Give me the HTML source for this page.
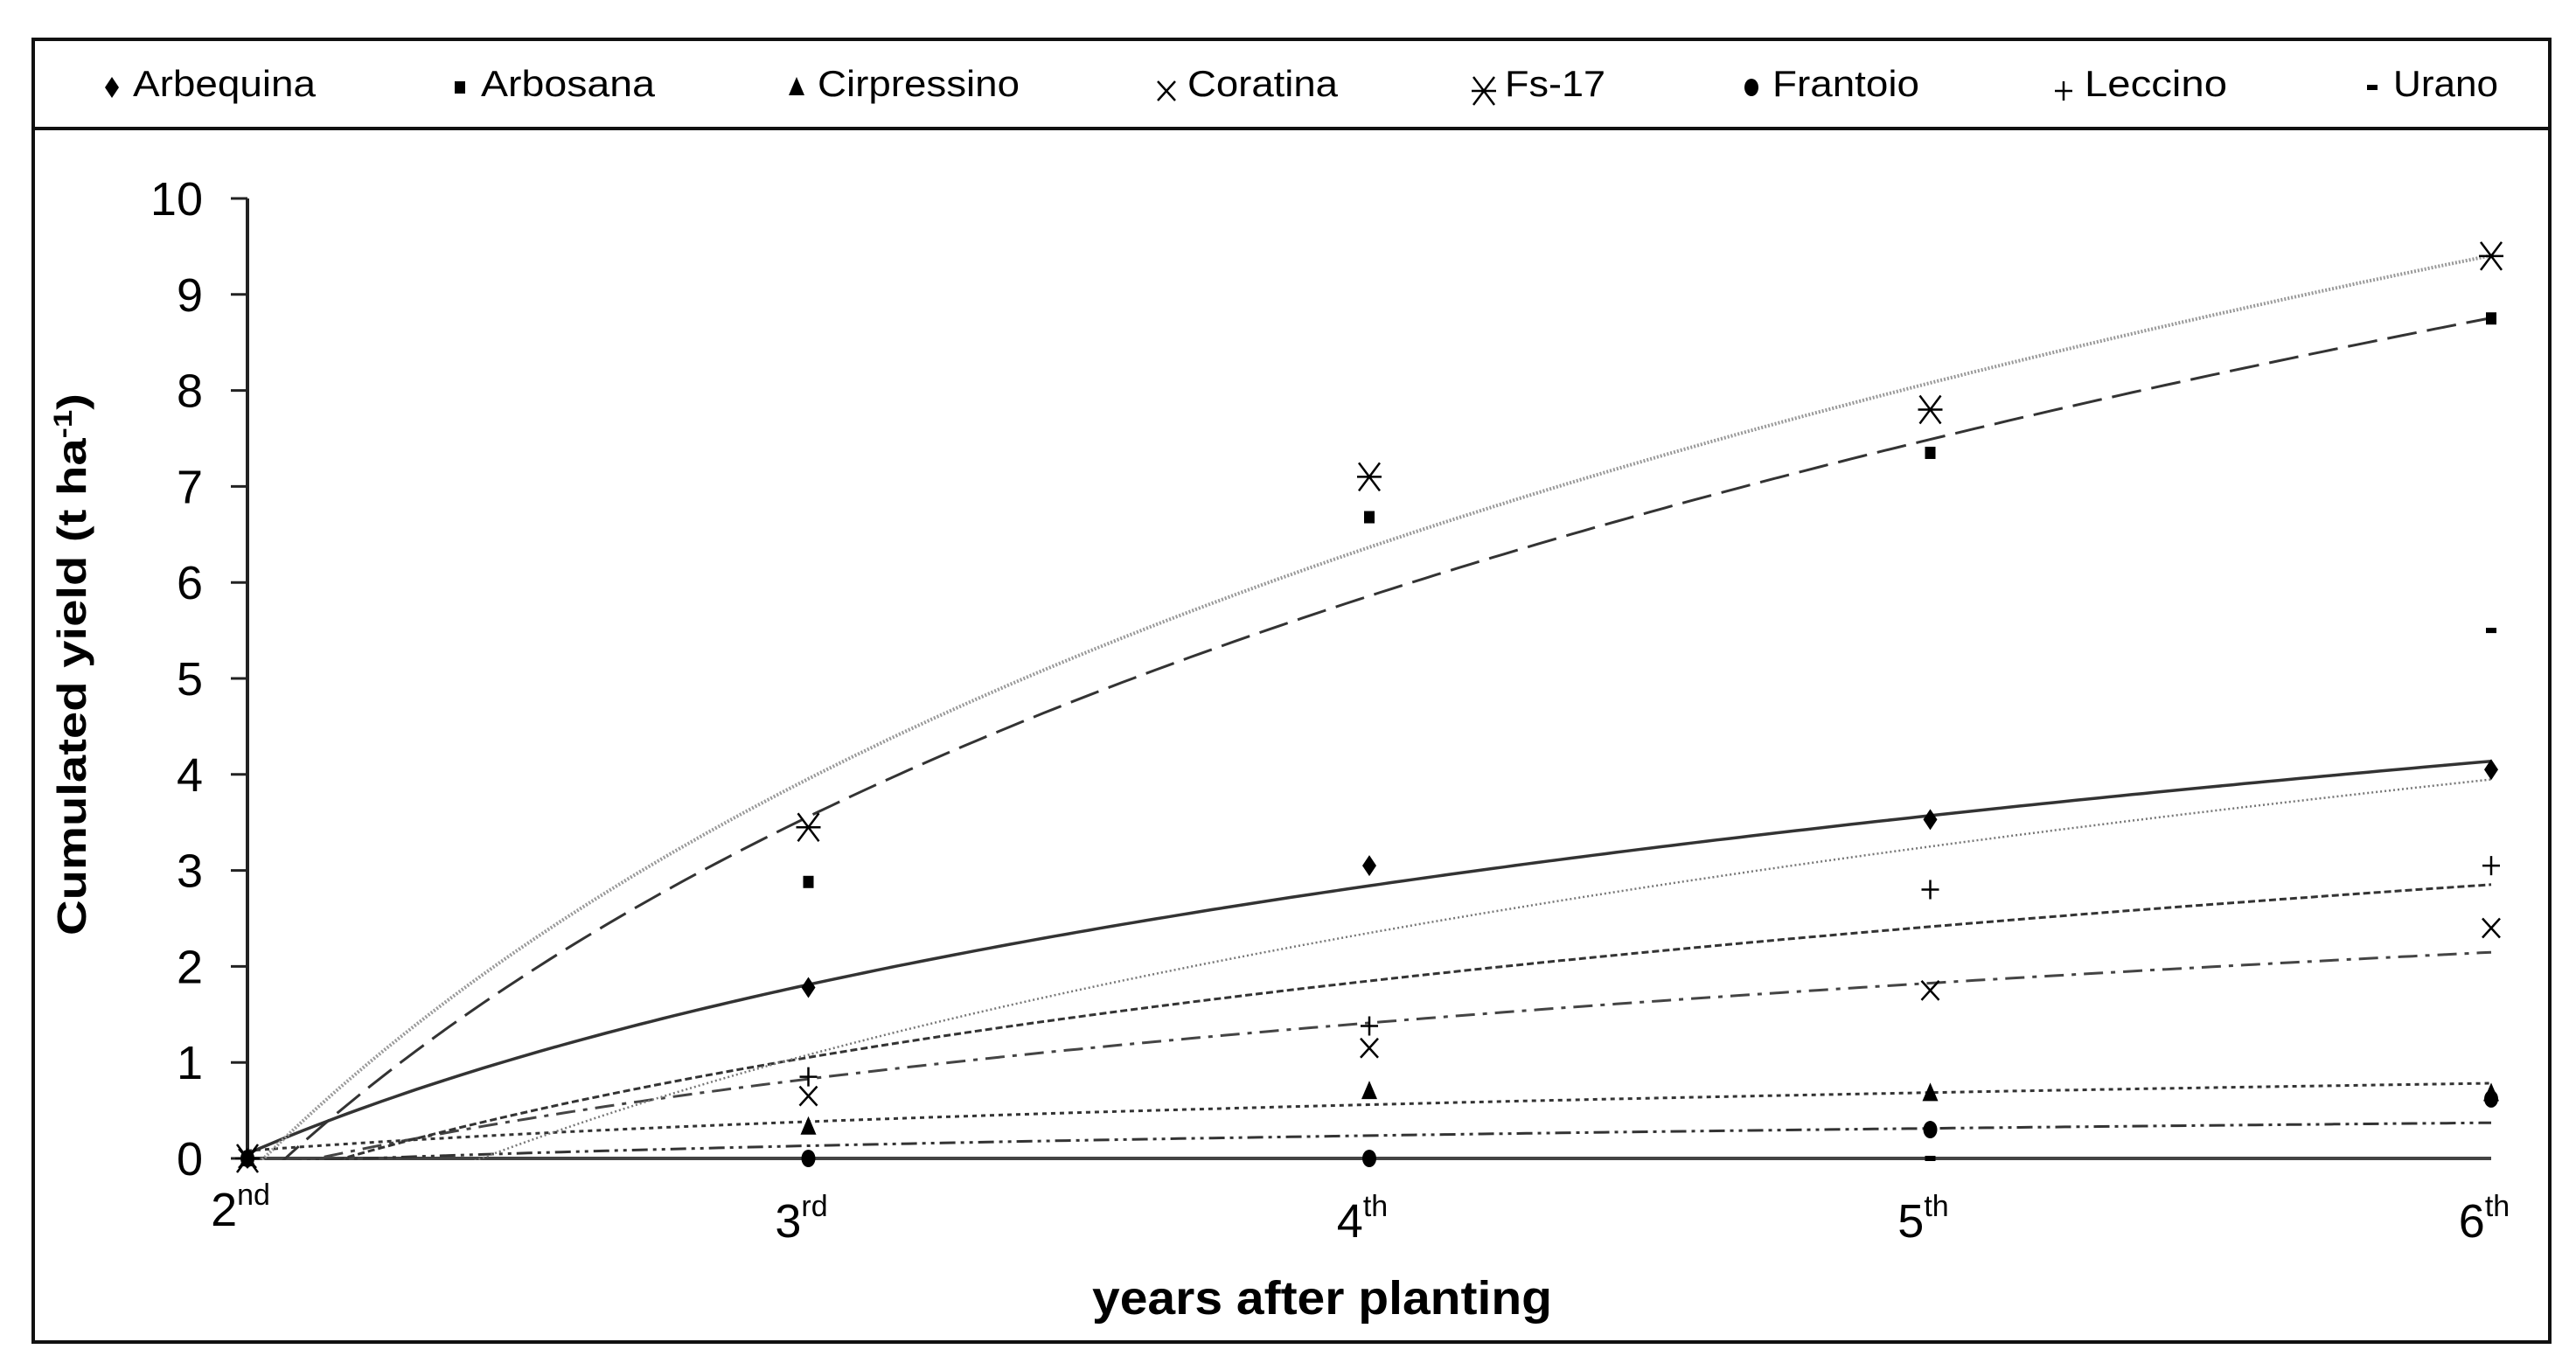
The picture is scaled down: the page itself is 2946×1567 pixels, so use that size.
<!DOCTYPE html>
<html><head><meta charset="utf-8"><style>
html,body{margin:0;padding:0;background:#fff}
svg{display:block;font-family:"Liberation Sans",sans-serif}
</style></head><body>
<svg id="chart" width="2946" height="1567" viewBox="0 0 2946 1567">
<rect x="38" y="45" width="2878" height="1490" fill="#fff" stroke="#111" stroke-width="4"/>
<line x1="38" y1="147" x2="2916" y2="147" stroke="#111" stroke-width="4"/>
<g id="legend"></g>
<g id="axes"></g>
<defs><clipPath id="plotclip"><rect x="283" y="150" width="2600" height="1177"/></clipPath></defs>
<g id="trends" clip-path="url(#plotclip)"></g>
<g id="points"></g>
<text x="98" y="760" transform="rotate(-90 98 760)" text-anchor="middle" font-weight="bold" font-size="46" textLength="620" lengthAdjust="spacingAndGlyphs">Cumulated yield (t ha<tspan baseline-shift="super" font-size="30">-1</tspan>)</text>
<text x="1512" y="1503" text-anchor="middle" font-weight="bold" font-size="54" textLength="526" lengthAdjust="spacingAndGlyphs">years after planting</text>
</svg>
<script>
const categories = ["2","3","4","5","6"];
const catSup = ["nd","rd","th","th","th"];
const yTicks = [0,1,2,3,4,5,6,7,8,9,10];
const seriesNames = ["Arbequina","Arbosana","Cirpressino","Coratina","Fs-17","Frantoio","Leccino","Urano"];
const arbequina = [0,1.78,3.05,3.53,4.05];
const arbosana = [0,2.88,6.68,7.35,8.75];
const cirpressino = [0,0.33,0.7,0.68,0.68];
const coratina = [0,0.65,1.15,1.75,2.4];
const fs17 = [0,3.45,7.1,7.8,9.4];
const frantoio = [0,0,0,0.3,0.62];
const leccino = [0,0.85,1.38,2.8,3.05];
const urano = [0,0,0,0,5.5];
// logarithmic trend coefficients y = a*ln(i+1) + b
const trendA = [2.54,5.67,0.437,1.44,5.95,0.262,1.965,3.13];
const trendB = [0.05,-0.37,0.08,-0.17,-0.17,-0.05,-0.31,-1.09];

const allSeries=[arbequina,arbosana,cirpressino,coratina,fs17,frantoio,leccino,urano];
const NS="http://www.w3.org/2000/svg";
const X0=283, XSTEP=641.5, Y0=1325, YUNIT=109.8;
const xScale=i=>X0+i*XSTEP;
const yScale=v=>Y0-v*YUNIT;
function mk(tag,attrs,parent){const e=document.createElementNS(NS,tag);for(const k in attrs)e.setAttribute(k,attrs[k]);parent.appendChild(e);return e;}
const styles=[
 {stroke:"#333",w:3.5,dash:""},
 {stroke:"#333",w:3,dash:"34 12"},
 {stroke:"#333",w:3,dash:"5 5"},
 {stroke:"#444",w:3,dash:"22 9 5 9"},
 {stroke:"#999",w:4,dash:"2 2"},
 {stroke:"#333",w:3,dash:"18 6 4 6 4 6"},
 {stroke:"#333",w:3,dash:"8 4"},
 {stroke:"#777",w:2.5,dash:"2 3"}
];
function marker(type,cx,cy,g){
  const s="#000";
  let e;
  if(type===0) e=mk("polygon",{points:`${cx},${cy-12} ${cx+8},${cy} ${cx},${cy+12} ${cx-8},${cy}`,fill:s},g);
  else if(type===1) e=mk("rect",{x:cx-6,y:cy-7,width:12,height:14,fill:s},g);
  else if(type===2) e=mk("polygon",{points:`${cx},${cy-12} ${cx+9},${cy+9} ${cx-9},${cy+9}`,fill:s},g);
  else if(type===3) e=mk("path",{d:`M${cx-10} ${cy-11}L${cx+10} ${cy+11}M${cx+10} ${cy-11}L${cx-10} ${cy+11}`,stroke:s,"stroke-width":2.5,fill:"none"},g);
  else if(type===4) e=mk("path",{d:`M${cx-12} ${cy-16}L${cx+12} ${cy+16}M${cx+12} ${cy-16}L${cx-12} ${cy+16}M${cx-14} ${cy}L${cx+14} ${cy}`,stroke:s,"stroke-width":2.5,fill:"none"},g);
  else if(type===5) e=mk("ellipse",{cx:cx,cy:cy,rx:8,ry:10,fill:s},g);
  else if(type===6) e=mk("path",{d:`M${cx-10} ${cy}L${cx+10} ${cy}M${cx} ${cy-11}L${cx} ${cy+11}`,stroke:s,"stroke-width":2.5,fill:"none"},g);
  else e=mk("rect",{x:cx-6,y:cy-3,width:12,height:6,fill:s},g);
  return e;
}
// legend
const legend=document.getElementById("legend");
const legMarkX=[128,526,911,1334,1697,2003,2360,2713];
const legTextW=[209,199,231,172,115,168,163,120];
seriesNames.forEach((n,i)=>{
  const g=mk("g",{},legend);
  
  
  marker(i,legMarkX[i],i===3||i===4||i===6?104:100,g);
  const t=mk("text",{x:legMarkX[i]+24,y:110,"font-size":42,textLength:legTextW[i],lengthAdjust:"spacingAndGlyphs"},g);
  t.textContent=n;
});
// axes
const axes=document.getElementById("axes");
mk("line",{x1:X0,y1:yScale(10),x2:X0,y2:Y0+2,stroke:"#222","stroke-width":4},axes);
mk("line",{x1:X0,y1:Y0,x2:xScale(4),y2:Y0,stroke:"#444","stroke-width":4},axes);
yTicks.forEach(v=>{
  const l=mk("line",{x1:X0-19,y1:yScale(v),x2:X0,y2:yScale(v),stroke:"#222","stroke-width":3},axes);
  
  
  const t=mk("text",{x:232,y:yScale(v)+19,"text-anchor":"end","font-size":54},axes);
  t.textContent=v;
  
  
});
categories.forEach((c,i)=>{
  const t=mk("text",{x:xScale(i)-8,y:i===0?1402:1415,"text-anchor":"middle","font-size":54},axes);
  t.textContent=c;
  const sp=mk("tspan",{"font-size":34,dy:-24},t);
  sp.textContent=catSup[i];
  
  
});
// trend lines
const trends=document.getElementById("trends");
trendA.forEach((a,s)=>{
  let d="";
  for(let k=0;k<=200;k++){
    const xi=k/200*4;
    const v=a*Math.log(xi+1)+trendB[s];
    d+=(k?"L":"M")+xScale(xi).toFixed(1)+" "+yScale(v).toFixed(1);
  }
  const p=mk("path",{d:d,fill:"none",stroke:styles[s].stroke,"stroke-width":styles[s].w,"stroke-dasharray":styles[s].dash},trends);
  
  
});
// points
const pts=document.getElementById("points");
allSeries.forEach((arr,s)=>{
  arr.forEach((v,i)=>{
    const m=marker(s,xScale(i),yScale(v),pts);
    
    
  });
});
</script>
</body></html>
